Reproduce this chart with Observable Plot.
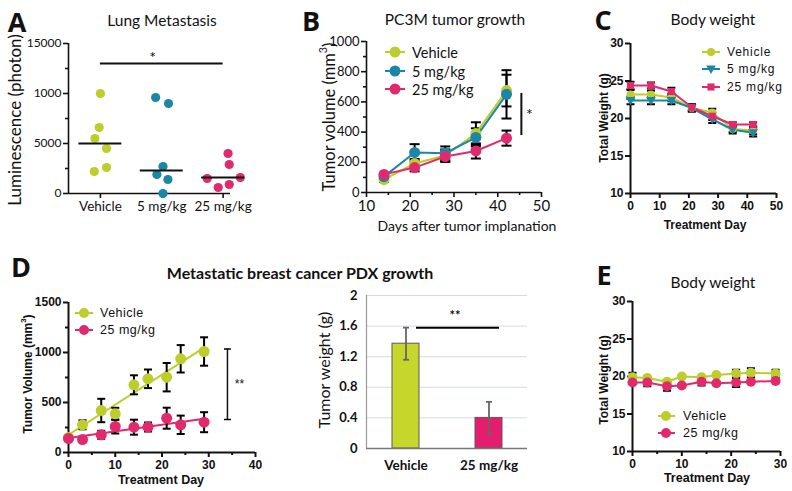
<!DOCTYPE html>
<html>
<head>
<meta charset="utf-8">
<script src="https://cdn.jsdelivr.net/npm/d3@7"></script>
<script src="https://cdn.jsdelivr.net/npm/@observablehq/plot@0.6"></script>
<style>
  html, body { margin: 0; padding: 0; background: #fff; }
  #fig { position: relative; width: 792px; height: 491px; overflow: hidden; background: #fff; }
  #fig svg { position: absolute; }
</style>
</head>
<body>
<div id="fig"></div>
<script>
// ---------------- colours ----------------
const GREEN = "#bccd2c", BLUE = "#1b87a6", PINK = "#e12a6e";
const BAR_GREEN = "#c6d62b", BAR_PINK = "#e61c6e";
const SANS = "Lato, 'Open Sans', sans-serif";
const GP = "'Liberation Sans', Arial, sans-serif";

// ---------------- Panel A: Lung metastasis ----------------
const aGroups = ["Vehicle", "5 mg/kg", "25 mg/kg"];
const aVehicle = [10000, 6600, 5500, 4500, 2600, 2200];
const aDose5 = [9600, 9000, 2700, 1900, 1400, 0];
const aDose25 = [4000, 2900, 1500, 1600, 600, 900];
const aJitterVehicle = [0, -0.02, -0.09, 0.1, 0.1, -0.1];
const aJitterDose5 = [-0.1, 0.11, 0.02, -0.08, 0.1, 0.02];
const aJitterDose25 = [0.08, 0.1, -0.26, 0.28, -0.08, 0.1];
const aMedians = [5000, 2300, 1600];
const aYTicks = [0, 5000, 10000, 15000];
const aYTickLabels = ["0", "5000", "1000", "15000"];
const aYMinor = [2500, 7500, 12500];
const aSignif = [{y: 13000, from: 0, to: 2, label: "*"}];

// ---------------- Panel B: PC3M tumor growth ----------------
const bDays = [14, 21, 28, 35, 42];
const bVehicle = [85, 192, 245, 390, 675];
const bVehicleErr = [15, 30, 40, 75, 105];
const bDose5 = [105, 265, 260, 365, 650];
const bDose5Err = [15, 55, 45, 60, 160];
const bDose25 = [120, 165, 238, 275, 360];
const bDose25Err = [10, 25, 35, 50, 50];
const bXTicks = [10, 20, 30, 40, 50];
const bXMinor = [15, 25, 35, 45];
const bYTicks = [0, 200, 400, 600, 800, 1000];
const bYMinor = [100, 300, 500, 700, 900];
const bSignif = [{x: 45.4, y1: 377, y2: 656, label: "*"}];

// ---------------- Panel C: body weight (PC3M) ----------------
const cDays = [0, 7, 14, 21, 28, 35, 42];
const cVehicle = [23.2, 23.2, 22.8, 21.4, 20.8, 18.6, 18.4];
const cVehicleErr = [0.6, 0.5, 0.5, 0.5, 0.5, 0.4, 0.5];
const cDose5 = [22.4, 22.4, 22.4, 21.4, 19.9, 18.5, 18.1];
const cDose5Err = [0.5, 0.5, 0.5, 0.4, 0.5, 0.5, 0.5];
const cDose25 = [24.4, 24.4, 23.6, 21.5, 20.3, 19.2, 19.2];
const cDose25Err = [0.5, 0.4, 0.5, 0.4, 0.5, 0.3, 0.3];
const cXTicks = [0, 10, 20, 30, 40, 50];
const cYTicks = [10, 15, 20, 25, 30];

// ---------------- Panel D (left): PDX tumor volume ----------------
const dDays = [0, 3, 7, 10, 14, 17, 21, 24, 29];
const dVehicle = [150, 277, 420, 387, 677, 737, 753, 937, 1010];
const dVehicleErr = [0, 45, 117, 60, 95, 93, 142, 137, 142];
const dDose25 = [140, 130, 177, 260, 253, 255, 343, 277, 303];
const dDose25Err = [0, 0, 40, 70, 75, 45, 105, 92, 100];
const dXTicks = [0, 10, 20, 30, 40];
const dXMinor = [5, 15, 25, 35];
const dYTicks = [0, 500, 1000, 1500];
const dYMinor = [250, 750, 1250];
const dSignif = [{x: 34, y1: 330, y2: 1035, label: "**"}];

// ---------------- Panel D (right): PDX tumor weight ----------------
const wGroups = ["Vehicle", "25 mg/kg"];
const wValues = [1.37, 0.40];
const wErr = [0.21, 0.21];
const wYTicks = [0, 0.4, 0.8, 1.2, 1.6, 2];
const wSignif = [{y: 1.58, label: "**"}];

// ---------------- Panel E: body weight (PDX) ----------------
const eDays = [0, 3, 7, 10, 14, 17, 21, 24, 29];
const eVehicle = [19.9, 19.8, 19.3, 20.0, 19.9, 20.2, 20.4, 20.5, 20.4];
const eVehicleErr = [0.6, 0.2, 0.2, 0.1, 0.1, 0.1, 0.5, 0.6, 0.5];
const eDose25 = [19.2, 19.2, 18.7, 18.8, 19.3, 19.1, 19.2, 19.3, 19.4];
const eDose25Err = [0.1, 0.5, 0.6, 0.1, 0.5, 0.1, 0.6, 0.1, 0.1];
const eXTicks = [0, 10, 20, 30];
const eXMinor = [5, 15, 25];
const eYTicks = [10, 15, 20, 25, 30];

// ---------------- helpers ----------------
const fig = document.getElementById("fig");
const capSymbol = {draw(ctx, size) { const r = Math.sqrt(size / Math.PI); ctx.moveTo(-r, 0); ctx.lineTo(r, 0); }};
const triDown = {draw(ctx, size) { const r = Math.sqrt(size / Math.PI); ctx.moveTo(-1.2 * r, -0.85 * r); ctx.lineTo(1.2 * r, -0.85 * r); ctx.lineTo(0, 1.25 * r); ctx.closePath(); }};
const plain = d => String(d);

function series(xs, ys, es, name) { return xs.map((x, i) => ({x, y: ys[i], e: es ? es[i] : 0, s: name})); }

function errMarks(data, {stroke = "black", width = 2, cap = 4} = {}) {
  const d = data.filter(p => p.e > 0);
  return [
    Plot.ruleX(d, {x: "x", y1: p => p.y - p.e, y2: p => p.y + p.e, stroke, strokeWidth: width}),
    Plot.dot(d, {x: "x", y: p => p.y + p.e, symbol: capSymbol, r: cap, fill: "none", stroke, strokeWidth: width}),
    Plot.dot(d, {x: "x", y: p => p.y - p.e, symbol: capSymbol, r: cap, fill: "none", stroke, strokeWidth: width})
  ];
}

function axisMarks({xTicks, xMinor = [], yTicks, yMinor = [], x0, y0, fs = 12, xfs = fs, weight = "bold", family = GP, lw = 2, xFormat = plain, yFormat = plain, tickLen = 5}) {
  const common = {strokeWidth: lw, label: null, fontWeight: weight, fontFamily: family};
  const m = [
    Plot.ruleX([x0], {strokeWidth: lw}),
    Plot.ruleY([y0], {strokeWidth: lw}),
    Plot.axisX(xTicks, {...common, fontSize: xfs, tickSize: tickLen, tickPadding: 3, tickFormat: xFormat}),
    Plot.axisY(yTicks, {...common, fontSize: fs, tickSize: tickLen, tickPadding: 2, tickFormat: yFormat})
  ];
  if (xMinor.length) m.push(Plot.axisX(xMinor, {...common, tickSize: 3, tickFormat: () => ""}));
  if (yMinor.length) m.push(Plot.axisY(yMinor, {...common, tickSize: 3, tickFormat: () => ""}));
  return m;
}

function mount(svg, left, top) { svg.style.left = left + "px"; svg.style.top = top + "px"; svg.style.overflow = "visible"; fig.appendChild(svg); }
const baseStyle = (family) => ({background: "transparent", fontFamily: family, color: "#111", overflow: "visible"});

// ---------------- Panel A plot ----------------
const aPoints = [
  ...aVehicle.map((v, i) => ({x: 0 + aJitterVehicle[i], y: v, c: GREEN})),
  ...aDose5.map((v, i) => ({x: 1 + aJitterDose5[i], y: v, c: BLUE})),
  ...aDose25.map((v, i) => ({x: 2 + aJitterDose25[i], y: v, c: PINK}))
];
mount(Plot.plot({
  width: 240, height: 230, marginLeft: 68, marginRight: 10, marginTop: 43, marginBottom: 37,
  x: {domain: [-0.52, 2.12]}, y: {domain: [0, 15000]}, color: {type: "identity"},
  style: baseStyle(SANS),
  marks: [
    ...axisMarks({xTicks: [0, 1, 2], yTicks: aYTicks, yMinor: aYMinor, x0: -0.52, y0: 0, fs: 12, xfs: 13.5, weight: "normal", family: SANS, lw: 1.6,
      xFormat: i => aGroups[i], yFormat: d => aYTickLabels[aYTicks.indexOf(d)]}),
    Plot.dot(aPoints, {x: "x", y: "y", r: 4.6, fill: "c"}),
    Plot.ruleY(aMedians.map((m, i) => ({m, i})), {y: "m", x1: d => d.i - 0.35, x2: d => d.i + 0.35, strokeWidth: 2}),
    Plot.ruleY(aSignif, {y: "y", x1: "from", x2: "to", strokeWidth: 2}),
    Plot.text(aSignif, {x: d => (d.from + d.to) / 2, y: "y", text: "label", dy: -6, dx: -9, fontSize: 16, fontFamily: SANS})
  ]
}), 0, 0);

// ---------------- Panel B plot ----------------
const bData = [...series(bDays, bVehicle, bVehicleErr, "v"), ...series(bDays, bDose5, bDose5Err, "5"), ...series(bDays, bDose25, bDose25Err, "25")];
const bColor = {v: GREEN, "5": BLUE, "25": PINK};
mount(Plot.plot({
  width: 250, height: 240, marginLeft: 66, marginRight: 9, marginTop: 41, marginBottom: 48,
  x: {domain: [10, 50]}, y: {domain: [0, 1000]}, color: {type: "identity"},
  style: baseStyle(SANS),
  marks: [
    ...axisMarks({xTicks: bXTicks, xMinor: bXMinor, yTicks: bYTicks, yMinor: bYMinor, x0: 10, y0: 0, fs: 13, xfs: 15, weight: "normal", family: SANS, lw: 1.6}),
    ...errMarks(bData, {cap: 5}),
    Plot.line(bData, {x: "x", y: "y", z: "s", stroke: d => bColor[d.s], strokeWidth: 2}),
    Plot.dot(bData, {x: "x", y: "y", r: 5.5, fill: d => bColor[d.s]}),
    Plot.ruleX(bSignif, {x: "x", y1: "y1", y2: "y2", strokeWidth: 2}),
    Plot.text(bSignif, {x: "x", y: d => (d.y1 + d.y2) / 2, text: "label", dx: 8, fontSize: 16, fontFamily: SANS})
  ]
}), 300, 0);

// ---------------- Panel C plot ----------------
const cData = [...series(cDays, cVehicle, cVehicleErr, "v"), ...series(cDays, cDose5, cDose5Err, "5"), ...series(cDays, cDose25, cDose25Err, "25")];
const cSym = {v: "circle", "5": triDown, "25": "square"};
mount(Plot.plot({
  width: 200, height: 240, marginLeft: 40, marginRight: 14, marginTop: 43, marginBottom: 47,
  x: {domain: [0, 50]}, y: {domain: [10, 30]}, color: {type: "identity"},
  style: baseStyle(GP),
  marks: [
    ...axisMarks({xTicks: cXTicks, yTicks: cYTicks, x0: 0, y0: 10, fs: 12}),
    ...errMarks(cData, {cap: 4}),
    Plot.line(cData, {x: "x", y: "y", z: "s", stroke: d => bColor[d.s], strokeWidth: 2}),
    ...["v", "5", "25"].map(s => Plot.dot(cData.filter(d => d.s === s), {x: "x", y: "y", r: 4, symbol: cSym[s], fill: bColor[s]}))
  ]
}), 590, 0);

// ---------------- Panel D left plot ----------------
const dData = [...series(dDays, dVehicle, dVehicleErr, "v"), ...series(dDays, dDose25, dDose25Err, "25")];
mount(Plot.plot({
  width: 270, height: 251, marginLeft: 68, marginRight: 15, marginTop: 62, marginBottom: 39,
  x: {domain: [0, 40]}, y: {domain: [0, 1500]}, color: {type: "identity"},
  style: baseStyle(GP),
  marks: [
    ...axisMarks({xTicks: dXTicks, xMinor: dXMinor, yTicks: dYTicks, yMinor: dYMinor, x0: 0, y0: 0, fs: 12}),
    Plot.linearRegressionY(dData, {x: "x", y: "y", z: "s", stroke: d => bColor[d.s], strokeWidth: 2, ci: 0}),
    ...errMarks(dData, {cap: 4}),
    Plot.dot(dData.filter(d => d.s === "v"), {x: "x", y: "y", r: 5.5, fill: GREEN}),
    Plot.dot(dData.filter(d => d.s === "25"), {x: "x", y: "y", r: 5.5, fill: PINK}),
    Plot.ruleX(dSignif, {x: "x", y1: "y1", y2: "y2", strokeWidth: 1.5}),
    Plot.dot(dSignif, {x: "x", y: "y1", symbol: capSymbol, r: 3.5, stroke: "black", strokeWidth: 1.5}),
    Plot.dot(dSignif, {x: "x", y: "y2", symbol: capSymbol, r: 3.5, stroke: "black", strokeWidth: 1.5}),
    Plot.text(dSignif, {x: "x", y: d => (d.y1 + d.y2) / 2, text: "label", dx: 12, fontSize: 12, fontFamily: GP})
  ]
}), 0, 240);

// ---------------- Panel D right plot (bars) ----------------
const wData = wGroups.map((g, i) => ({g, v: wValues[i], e: wErr[i], c: i === 0 ? BAR_GREEN : BAR_PINK}));
mount(Plot.plot({
  width: 250, height: 251, marginLeft: 76, marginRight: 13, marginTop: 55, marginBottom: 43,
  x: {domain: wGroups, paddingInner: 0.68, paddingOuter: 0.3}, y: {domain: [0, 2]}, color: {type: "identity"},
  style: baseStyle(SANS),
  marks: [
    Plot.gridY(wYTicks, {stroke: "#d3dbe6", strokeOpacity: 1, strokeWidth: 1}),
    Plot.frame({anchor: "left", stroke: "#9a9a9a", strokeWidth: 1.2}),
    Plot.axisY(wYTicks, {tickSize: 0, tickPadding: 9, label: null, fontSize: 13, fontWeight: "bold", tickFormat: plain}),
    Plot.axisX({tickSize: 0, tickPadding: 12, label: null, fontSize: 13.5, fontWeight: "bold"}),
    Plot.barY(wData, {x: "g", y: "v", fill: "c", stroke: "#5a5a5a", strokeWidth: 1}),
    Plot.ruleY([0], {stroke: "#777", strokeWidth: 1.5}),
    Plot.ruleX(wData, {x: "g", y1: d => d.v - d.e, y2: d => d.v + d.e, stroke: "#666", strokeWidth: 1.8}),
    Plot.dot(wData, {x: "g", y: d => d.v + d.e, symbol: capSymbol, r: 3, stroke: "#666", strokeWidth: 1.8}),
    Plot.dot(wData, {x: "g", y: d => d.v - d.e, symbol: capSymbol, r: 3, stroke: "#666", strokeWidth: 1.8}),
    Plot.link(wSignif, {x1: () => wGroups[0], x2: () => wGroups[1], y1: "y", y2: "y", stroke: "black", strokeWidth: 2, dx: 10})
  ]
}), 290, 240);

// ---------------- Panel E plot ----------------
const eData = [...series(eDays, eVehicle, eVehicleErr, "v"), ...series(eDays, eDose25, eDose25Err, "25")];
mount(Plot.plot({
  width: 200, height: 251, marginLeft: 42, marginRight: 10, marginTop: 61, marginBottom: 40,
  x: {domain: [0, 30]}, y: {domain: [10, 30]}, color: {type: "identity"},
  style: baseStyle(GP),
  marks: [
    ...axisMarks({xTicks: eXTicks, xMinor: eXMinor, yTicks: eYTicks, x0: 0, y0: 10, fs: 12}),
    ...errMarks(eData, {cap: 4}),
    Plot.line(eData, {x: "x", y: "y", z: "s", stroke: d => bColor[d.s], strokeWidth: 2}),
    Plot.dot(eData, {x: "x", y: "y", r: 5, fill: d => bColor[d.s]})
  ]
}), 590, 240);

// ---------------- overlay: titles, labels, legends ----------------
const ov = d3.select(fig).append("svg").attr("width", 792).attr("height", 491).style("left", "0px").style("top", "0px").style("pointer-events", "none");
function addText(str, x, y, o = {}) {
  const size = o.size || 14;
  const t = ov.append("text").attr("x", x).attr("y", y)
    .attr("text-anchor", o.anchor || "middle").attr("dominant-baseline", "central")
    .attr("font-family", o.family || SANS).attr("font-size", size).attr("font-weight", o.weight || "normal").attr("fill", "#111");
  if (o.ls) t.attr("letter-spacing", o.ls);
  if (o.rotate) t.attr("transform", `rotate(-90,${x},${y})`);
  const parts = str.split("^");
  t.append("tspan").text(parts[0]);
  if (parts.length > 1) {
    t.append("tspan").attr("dy", -size * 0.4).attr("font-size", size * 0.65).text(parts[1][0]);
    t.append("tspan").attr("dy", size * 0.4).text(parts[1].slice(1));
  }
  return t;
}
function legend(items, {x0, x1, mx, tx, ys, family, size, ls, r}) {
  items.forEach((it, i) => {
    ov.append("line").attr("x1", x0).attr("x2", x1).attr("y1", ys[i]).attr("y2", ys[i]).attr("stroke", it.color).attr("stroke-width", 2);
    ov.append("path").attr("d", d3.symbol(it.symbol || d3.symbolCircle, Math.PI * r * r)()).attr("transform", `translate(${mx},${ys[i]})`).attr("fill", it.color);
    addText(it.label, tx, ys[i], {anchor: "start", family, size, ls});
  });
}

// panel letters
[["A", 17, 21], ["B", 311, 20], ["C", 603, 19], ["D", 21, 266], ["E", 604, 274]].forEach(([l, x, y]) => addText(l, x, y, {size: 27, weight: "bold", family: "'Open Sans', sans-serif"}));
// titles
addText("Lung Metastasis", 162, 20, {size: 15.5});
addText("PC3M tumor growth", 455, 19, {size: 15.5});
addText("Body weight", 713, 19, {size: 15.5});
addText("Metastatic breast cancer PDX growth", 300, 272, {size: 16, weight: "bold"});
addText("Body weight", 713, 282, {size: 15.5});
// axis labels
addText("Luminescence (photon)", 14, 120, {size: 17, rotate: true});
addText("Tumor volume (mm^3)", 329, 117, {size: 16.5, rotate: true});
addText("Days after tumor implanation", 467, 225, {size: 14});
addText("Total Weight (g)", 604, 118, {size: 12, weight: "bold", family: GP, rotate: true});
addText("Treatment Day", 705, 225, {size: 12, weight: "bold", family: GP});
addText("Tumor Volume (mm^3)", 28, 374, {size: 12, weight: "bold", family: GP, rotate: true});
addText("Treatment Day", 161, 480, {size: 12.5, weight: "bold", family: GP});
addText("Tumor weight (g)", 323, 370, {size: 16, rotate: true});
addText("**", 455, 315, {size: 13, weight: "bold"});
addText("Total Weight (g)", 604, 380, {size: 12, weight: "bold", family: GP, rotate: true});
addText("Treatment Day", 707, 478, {size: 12.5, weight: "bold", family: GP});
// legends
legend([{label: "Vehicle", color: GREEN}, {label: "5 mg/kg", color: BLUE}, {label: "25 mg/kg", color: PINK}],
  {x0: 385, x1: 405, mx: 395, tx: 412, ys: [52, 71, 89], family: SANS, size: 14.5, r: 5.5});
legend([{label: "Vehicle", color: GREEN}, {label: "5 mg/kg", color: BLUE, symbol: triDown}, {label: "25 mg/kg", color: PINK, symbol: d3.symbolSquare}],
  {x0: 702, x1: 720, mx: 711, tx: 727, ys: [52, 69, 87], family: GP, size: 12, ls: 0.8, r: 4});
legend([{label: "Vehicle", color: GREEN}, {label: "25 mg/kg", color: PINK}],
  {x0: 75, x1: 93, mx: 84, tx: 100, ys: [313, 330], family: GP, size: 12.5, ls: 0.5, r: 5});
legend([{label: "Vehicle", color: GREEN}, {label: "25 mg/kg", color: PINK}],
  {x0: 658, x1: 675, mx: 666, tx: 683, ys: [416, 433], family: GP, size: 12.5, ls: 0.5, r: 5});
</script>
</body>
</html>
